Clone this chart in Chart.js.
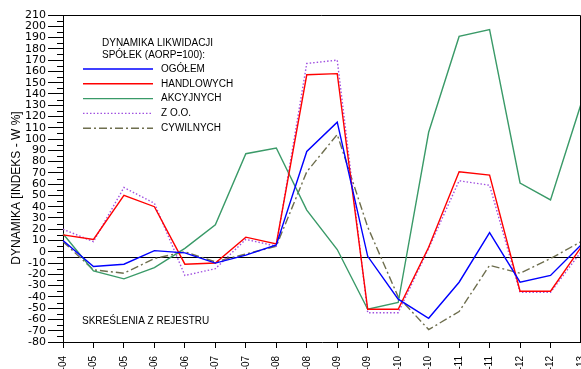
<!DOCTYPE html>
<html>
<head>
<meta charset="utf-8">
<script src="https://cdn.jsdelivr.net/npm/chart.js@4/dist/chart.umd.min.js"></script>
<style>
  html, body { margin: 0; padding: 0; background: #fff; overflow: hidden; }
  #wrap { width: 581px; height: 369px; }
</style>
</head>
<body>
<div id="wrap"><canvas id="mainChart" width="581" height="369"></canvas></div>
<script>
// Dynamika likwidacji spolek

const periods = ['-04', '-05', '-05', '-06', '-06', '-07', '-07', '-08', '-08', '-09',
                 '-09', '-10', '-10', '-11', '-11', '-12', '-12', '-13'];

const ogolem     = [10, -13, -11, 1, -1, -10, -3, 6, 89, 115, -4, -42, -59, -27, 17, -27, -21, 6];
const handlowych = [15, 11, 50, 40, -11, -10, 13, 7, 157, 158, -51, -51, 4, 71, 68, -35, -35, 4];
const akcyjnych  = [16, -17, -24, -14, 3, 24, 87, 92, 37, 2, -51, -45, 106, 191, 197, 61, 46, 131];
const zoo        = [20, 9, 57, 43, -21, -15, 11, 5, 167, 170, -54, -54, 3, 63, 59, -36, -36, 0];
const cywilnych  = [9, -16, -19, -6, 0, -9, -2, 5, 71, 104, 22, -40, -69, -53, -12, -19, -6, 9];

const seriesNames = ['OGÓŁEM', 'HANDLOWYCH', 'AKCYJNYCH', 'Z O.O.', 'CYWILNYCH'];
const legendTitle = ['DYNAMIKA LIKWIDACJI', 'SPÓŁEK (AORP=100):'];
const noteText = 'SKREŚLENIA Z REJESTRU';
const yTitle = 'DYNAMIKA [INDEKS - W %]';
const refLevel = -5;
const yMin = -80;
const yMax = 210;

const styles = [
    { color: '#0000ff', dash: [], width: 1.4 },
    { color: '#ff0000', dash: [], width: 1.4 },
    { color: '#3a9a68', dash: [], width: 1.4 },
    { color: '#a050e0', dash: [1.5, 2], width: 1.4 },
    { color: '#6e6e4e', dash: [8, 3, 2, 3], width: 1.4 }
];

const allSeries = [ogolem, handlowych, akcyjnych, zoo, cywilnych];

function createDatasets() {
    return allSeries.map((values, i) => ({
        label: seriesNames[i],
        data: values,
        borderColor: styles[i].color,
        borderWidth: styles[i].width,
        borderDash: styles[i].dash,
        pointRadius: 0,
        fill: false,
        tension: 0
    }));
}

// linia odniesienia, ramka i podziałka pomocnicza
const framePlugin = {
    id: 'frame',
    beforeDatasetsDraw(chart) {
        const { ctx, chartArea: a, scales } = chart;
        const y = Math.round(scales.y.getPixelForValue(refLevel)) + 0.5;
        ctx.save();
        ctx.strokeStyle = '#000';
        ctx.lineWidth = 1;
        ctx.beginPath();
        ctx.moveTo(a.left, y);
        ctx.lineTo(a.right, y);
        ctx.stroke();
        ctx.restore();
    },
    afterDraw(chart) {
        const { ctx, chartArea: a, scales } = chart;
        ctx.save();
        ctx.strokeStyle = '#000';
        ctx.lineWidth = 1;
        // ramka gorna i prawa
        ctx.beginPath();
        ctx.moveTo(a.left, Math.round(a.top) + 0.5);
        ctx.lineTo(Math.round(a.right) - 0.5, Math.round(a.top) + 0.5);
        ctx.lineTo(Math.round(a.right) - 0.5, a.bottom);
        ctx.stroke();
        // podzialka pomocnicza osi Y
        for (let v = yMin + 5; v < yMax; v += 10) {
            const py = Math.round(scales.y.getPixelForValue(v)) + 0.5;
            ctx.beginPath();
            ctx.moveTo(a.left - 6, py);
            ctx.lineTo(a.left, py);
            ctx.stroke();
        }

        // tytul osi Y
        ctx.fillStyle = '#000';
        ctx.font = '12px "Liberation Sans", Arial, sans-serif';
        ctx.textAlign = 'center';
        ctx.textBaseline = 'middle';
        ctx.translate(17, 188);
        ctx.rotate(-Math.PI / 2);
        ctx.fillText(yTitle, 0, 0);
        ctx.restore();

        // legenda
        ctx.save();
        ctx.fillStyle = '#000';
        ctx.font = '10px "Liberation Sans", Arial, sans-serif';
        ctx.textAlign = 'left';
        ctx.textBaseline = 'middle';
        ctx.fillText(legendTitle[0], 102, 43);
        ctx.fillText(legendTitle[1], 102, 55);
        seriesNames.forEach((name, i) => {
            const ly = 69 + i * 14.8;
            ctx.strokeStyle = styles[i].color;
            ctx.lineWidth = styles[i].width;
            ctx.setLineDash(styles[i].dash);
            ctx.beginPath();
            ctx.moveTo(83, ly);
            ctx.lineTo(153, ly);
            ctx.stroke();
            ctx.fillText(name, 161, ly);
        });
        ctx.fillText(noteText, 82, 321);
        ctx.restore();
    }
};

let chart;

function initChart() {
    const ctx = document.getElementById('mainChart').getContext('2d');
    chart = new Chart(ctx, {
        type: 'line',
        data: { labels: periods, datasets: createDatasets() },
        options: {
            responsive: false,
            animation: false,
            devicePixelRatio: 1,
            layout: { padding: { top: 15, right: 0, bottom: 0, left: 0 } },
            plugins: {
                legend: { display: false },
                tooltip: { enabled: false }
            },
            scales: {
                x: {
                    type: 'category',
                    offset: false,
                    grid: {
                        drawOnChartArea: false,
                        drawTicks: true,
                        tickLength: 6,
                        color: '#000',
                        offset: false
                    },
                    border: { display: true, color: '#000', width: 1 },
                    ticks: {
                        autoSkip: false,
                        minRotation: 90,
                        maxRotation: 90,
                        padding: 8,
                        color: '#000',
                        font: { family: '"Liberation Sans", Arial, sans-serif', size: 10 }
                    },
                    afterFit(scale) {
                        scale.height = 27;
                        scale.paddingLeft = 0;
                        scale.paddingRight = 0;
                    }
                },
                y: {
                    min: yMin,
                    max: yMax,
                    grid: {
                        drawOnChartArea: false,
                        drawTicks: true,
                        tickLength: 15,
                        color: '#000'
                    },
                    border: { display: true, color: '#000', width: 1 },
                    ticks: {
                        stepSize: 10,
                        autoSkip: false,
                        padding: 2,
                        color: '#000',
                        font: { family: '"DejaVu Sans", sans-serif', size: 11 }
                    },
                    afterFit(scale) {
                        scale.width = 63;
                    }
                }
            }
        },
        plugins: [framePlugin]
    });
}

initChart();
</script>
</body>
</html>
